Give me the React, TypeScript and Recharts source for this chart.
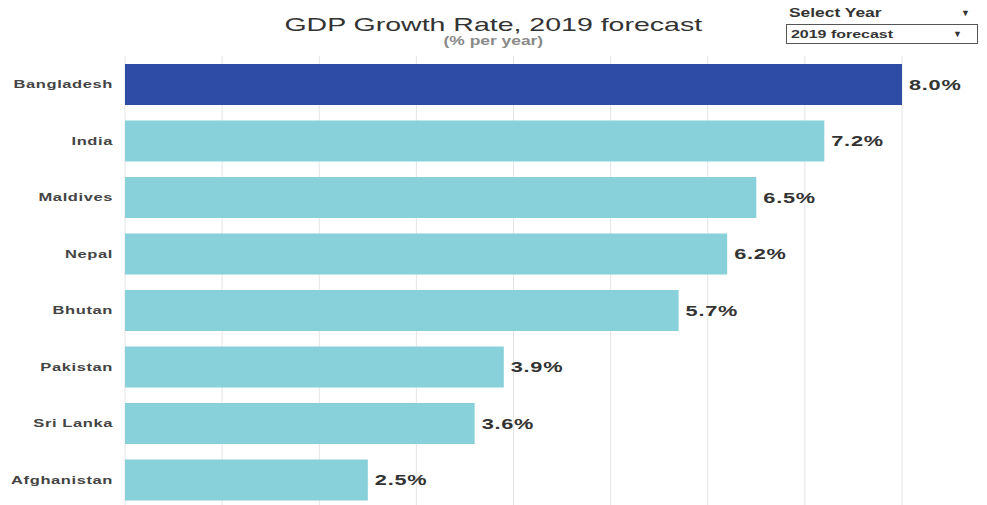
import { BarChart, Bar, XAxis, YAxis, CartesianGrid, LabelList, Cell } from "recharts";

const countries = ["Bangladesh", "India", "Maldives", "Nepal", "Bhutan", "Pakistan", "Sri Lanka", "Afghanistan"];
const growth = [8.0, 7.2, 6.5, 6.2, 5.7, 3.9, 3.6, 2.5];
const xTicks = [0, 1, 2, 3, 4, 5, 6, 7, 8];

const data = countries.map((country, i) => ({ country, growth: growth[i] }));

const font = "'Liberation Sans', Arial, sans-serif";
// the source text looks stretched sideways
const STRETCH = 1.45;

const CountryTick = (props: any) => {
  const { x, y, payload } = props;
  return (
    <text
      transform={`translate(${x},${y}) scale(1.5,1)`}
      textAnchor="end"
      dy="0.35em"
      fill="#444"
      fontSize={11}
      fontWeight={700}
      fontFamily={font}
      letterSpacing={0.4}
    >
      {payload.value}
    </text>
  );
};

const ValueLabel = (props: any) => {
  const { x, y, width, height, value } = props;
  const lx = x + width + 7;
  const ly = y + height / 2;
  return (
    <text
      transform={`translate(${lx},${ly}) scale(${STRETCH},1)`}
      textAnchor="start"
      dy="0.36em"
      fill="#333"
      fontSize={15}
      fontWeight={700}
      fontFamily={font}
      letterSpacing={0.5}
    >
      {`${Number(value).toFixed(1)}%`}
    </text>
  );
};

const stretch = (origin: string, k = STRETCH) => ({ transform: `scaleX(${k})`, transformOrigin: origin, display: "inline-block" });

export default function App() {
  return (
    <div style={{ position: "absolute", left: 0, top: 0, width: 987, height: 505, overflow: "hidden", background: "#fff", fontFamily: font }}>
      <BarChart
        width={987}
        height={520}
        data={data}
        layout="vertical"
        margin={{ top: 56, right: 85, bottom: 12, left: 0 }}
      >
        <CartesianGrid horizontal={false} stroke="#e4e4e4" />
        <XAxis type="number" domain={[0, 8]} ticks={xTicks} hide />
        <YAxis
          type="category"
          dataKey="country"
          width={125}
          axisLine={false}
          tickLine={false}
          tickMargin={6}
          tick={<CountryTick />}
        />
        <Bar dataKey="growth" isAnimationActive={false} barSize={41}>
          {data.map((d, i) => (
            <Cell key={d.country} fill={i === 0 ? "#2e4ca6" : "#88d1da"} />
          ))}
          <LabelList dataKey="growth" content={<ValueLabel />} />
        </Bar>
      </BarChart>

      <div style={{ position: "absolute", left: 0, width: 987, top: 15, textAlign: "center", fontSize: 19, color: "#333", lineHeight: "19px" }}>
        <span style={stretch("center", 1.5)}>GDP Growth Rate, 2019 forecast</span>
      </div>
      <div style={{ position: "absolute", left: 0, width: 987, top: 35, textAlign: "center", fontSize: 12, color: "#8a8a8a", fontWeight: 700, lineHeight: "13px" }}>
        <span style={stretch("center")}>(% per year)</span>
      </div>

      <div style={{ position: "absolute", left: 789, top: 5, fontSize: 12, fontWeight: 700, color: "#333", lineHeight: "16px" }}>
        <span style={stretch("left")}>Select Year</span>
      </div>
      <div style={{ position: "absolute", left: 961, top: 5, fontSize: 9, color: "#333", lineHeight: "16px" }}>▼</div>
      <div
        style={{
          position: "absolute",
          left: 786,
          top: 24,
          width: 192,
          height: 20,
          border: "1px solid #555",
          boxSizing: "border-box",
          fontSize: 11,
          fontWeight: 700,
          color: "#333",
          lineHeight: "18px",
          paddingLeft: 4,
        }}
      >
        <span style={stretch("left")}>2019 forecast</span>
        <span style={{ position: "absolute", right: 15, top: 0, fontSize: 9 }}>▼</span>
      </div>
    </div>
  );
}
